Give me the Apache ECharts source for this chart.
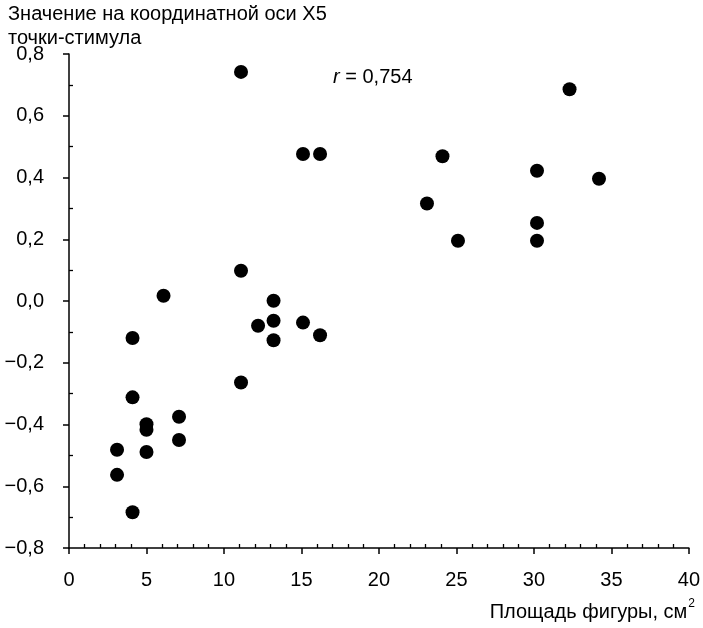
<!DOCTYPE html>
<html>
<head>
<meta charset="utf-8">
<script src="https://cdn.jsdelivr.net/npm/echarts@6/dist/echarts.min.js"></script>
<style>html,body{margin:0;padding:0;background:#fff}#c{width:703px;height:628px}</style>
</head>
<body>
<div id="c"></div>
<script>
const titleLines = ['Значение на координатной оси X5', 'точки-стимула'];
const xAxisName = 'Площадь фигуры, см';
const xAxisNameSup = '2';
const corrLabel = '0,754';
const xValues = [11.1, 32.3, 15.1, 16.2, 24.1, 30.2, 34.2, 23.1, 30.2, 25.1, 30.2, 11.1, 6.1, 13.2, 12.2, 13.2, 15.1, 13.2, 16.2, 4.1, 11.1, 4.1, 7.1, 5.0, 5.0, 7.1, 3.1, 5.0, 3.1, 4.1];
const yValues = [0.742, 0.686, 0.476, 0.476, 0.469, 0.422, 0.396, 0.316, 0.253, 0.195, 0.195, 0.098, 0.017, 0.001, -0.080, -0.064, -0.070, -0.127, -0.111, -0.120, -0.264, -0.312, -0.375, -0.399, -0.417, -0.450, -0.482, -0.489, -0.563, -0.684];

const FONT = '"Liberation Sans", Arial, sans-serif';
const points = xValues.map((x, i) => [x, yValues[i]]);
const fmtY = v => (v < 0 ? '\u2212' : '') + Math.abs(v).toFixed(1).replace('.', ',');

const chart = echarts.init(document.getElementById('c'), null, {renderer: 'canvas'});
const axisLineStyle = {color: '#000', width: 1.5};
chart.setOption({
  animation: false,
  backgroundColor: '#fff',
  grid: {left: 69, right: 12, top: 54, bottom: 80, containLabel: false},
  xAxis: [{
    type: 'value', min: 0, max: 40, interval: 5, position: 'bottom',
    axisLine: {show: true, onZero: false, lineStyle: axisLineStyle},
    axisTick: {show: true, inside: false, length: 6, lineStyle: axisLineStyle},
    axisLabel: {show: true, margin: 22, fontSize: 20, color: '#000', fontFamily: FONT},
    splitLine: {show: false}
  }, {
    type: 'value', min: 0, max: 40, interval: 5, position: 'bottom',
    axisLine: {show: false, onZero: false},
    axisTick: {show: true, inside: true, length: 0},
    minorTick: {show: true, splitNumber: 5, length: 4, lineStyle: {color: '#000', width: 1.3}},
    axisLabel: {show: false},
    splitLine: {show: false}
  }],
  yAxis: [{
    type: 'value', min: -0.8, max: 0.8, interval: 0.2, position: 'left',
    axisLine: {show: true, onZero: false, lineStyle: axisLineStyle},
    axisTick: {show: true, inside: false, length: 6, lineStyle: axisLineStyle},
    axisLabel: {show: true, margin: 25, fontSize: 20, color: '#000', fontFamily: FONT, formatter: fmtY},
    splitLine: {show: false}
  }, {
    type: 'value', min: -0.8, max: 0.8, interval: 0.2, position: 'left',
    axisLine: {show: false, onZero: false},
    axisTick: {show: true, inside: true, length: 0},
    minorTick: {show: true, splitNumber: 2, length: 4, lineStyle: {color: '#000', width: 1.3}},
    axisLabel: {show: false},
    splitLine: {show: false}
  }],
  series: [{
    type: 'scatter', xAxisIndex: 0, yAxisIndex: 0,
    symbol: 'circle', symbolSize: 14,
    itemStyle: {color: '#000', opacity: 1},
    data: points
  }],
  graphic: [
    {type: 'text', left: 8, top: 4, style: {text: titleLines[0], font: '20px ' + FONT, fill: '#000'}},
    {type: 'text', left: 8, top: 28, style: {text: titleLines[1], font: '20px ' + FONT, fill: '#000'}},
    {type: 'text', left: 333, top: 67, style: {
      text: '{i|r} = ' + corrLabel, font: '20px ' + FONT, fill: '#000',
      rich: {i: {fontStyle: 'italic', fontSize: 20, fontFamily: FONT, fill: '#000'}}
    }},
    {type: 'text', right: 8, top: 598, style: {
      text: xAxisName + '{s|' + xAxisNameSup + '}', font: '20px ' + FONT, fill: '#000',
      rich: {s: {fontSize: 12, fontFamily: FONT, verticalAlign: 'top', padding: [0, 0, 16, 1], fill: '#000'}}
    }}
  ]
});
</script>
</body>
</html>
